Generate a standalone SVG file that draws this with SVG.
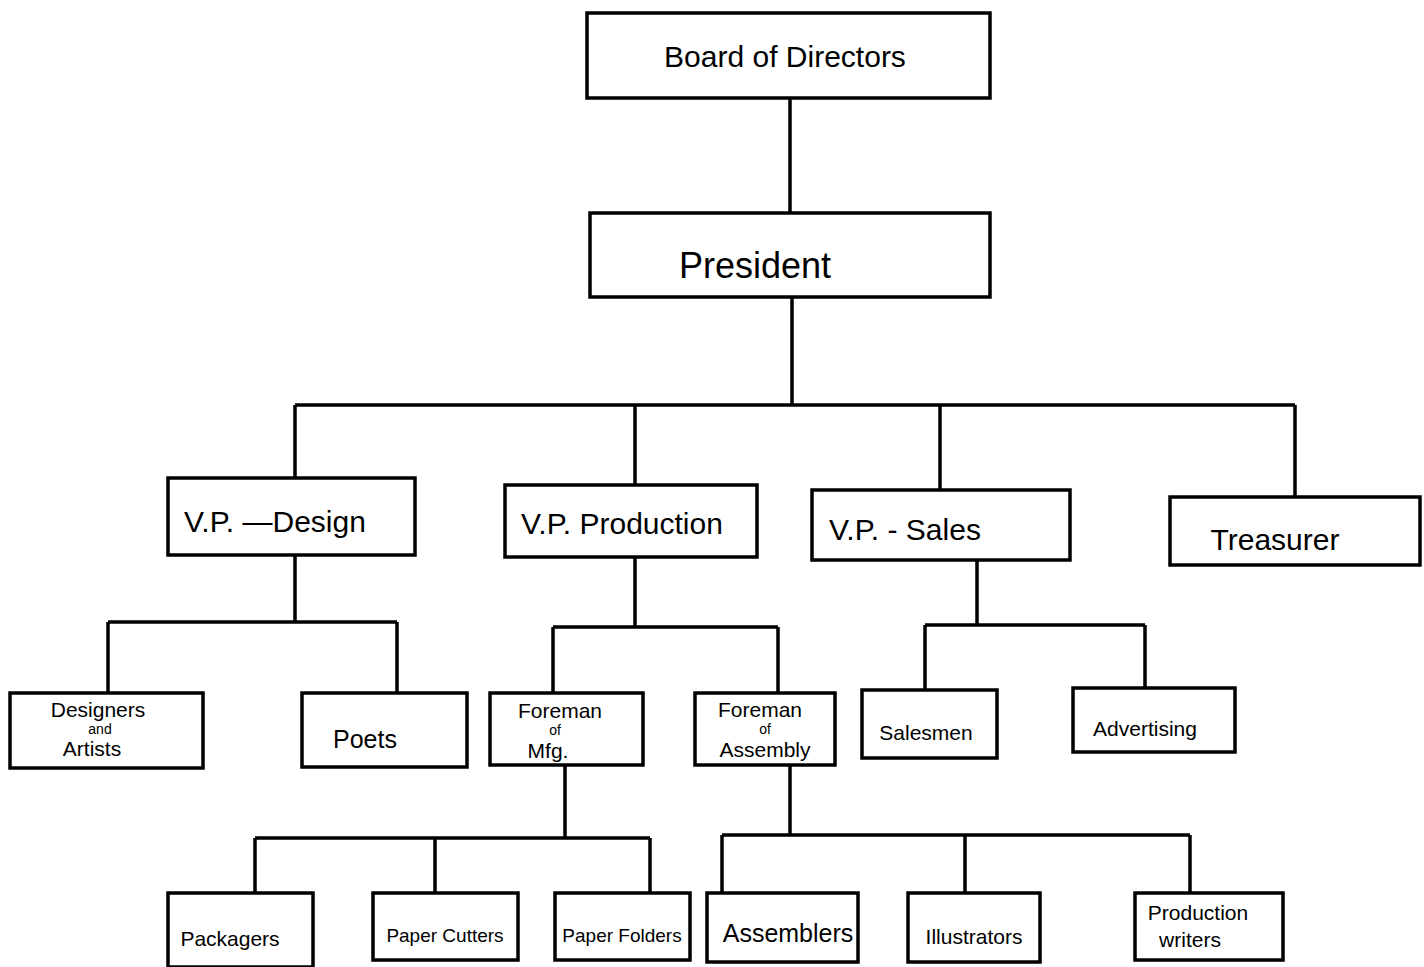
<svg xmlns="http://www.w3.org/2000/svg" width="1424" height="967" viewBox="0 0 1424 967">
<style>
.box{fill:#fff;stroke:#000;stroke-width:3.5}
.c{fill:none;stroke:#000;stroke-width:3.5}
text{font-family:"Liberation Sans",Arial,sans-serif;fill:#000;text-anchor:middle}
.l{font-size:30px}
.m{font-size:25px}
.s{font-size:21px}
.t{font-size:14px}
</style>
<rect width="1424" height="967" fill="#fff"/>
<g id="connectors">
<path class="c" d="M790 98V213"/>
<path class="c" d="M792 297V405M295 405H1295M295 405V478M635 405V485M940 405V490M1295 405V497"/>
<path class="c" d="M295 555V622M108 622H397M108 622V693M397 622V693"/>
<path class="c" d="M635 557V627M553 627H778M553 627V693M778 627V693"/>
<path class="c" d="M977 560V625M925 625H1145M925 625V690M1145 625V688"/>
<path class="c" d="M565 765V838M255 838H650M255 838V893M435 838V893M650 838V893"/>
<path class="c" d="M790 765V835M722 835H1190M722 835V893M965 835V893M1190 835V893"/>
</g>
<g id="board"><rect class="box" x="587" y="13" width="403" height="85"/><text class="l" x="785" y="67">Board of Directors</text></g>
<g id="president"><rect class="box" x="590" y="213" width="400" height="84"/><text x="755" y="278" style="font-size:36px">President</text></g>
<g id="vp-design"><rect class="box" x="168" y="478" width="247" height="77"/><text class="l" x="275" y="532">V.P. —Design</text></g>
<g id="vp-production"><rect class="box" x="505" y="485" width="252" height="72"/><text class="l" x="622" y="534">V.P. Production</text></g>
<g id="vp-sales"><rect class="box" x="812" y="490" width="258" height="70"/><text class="l" x="905" y="540">V.P. - Sales</text></g>
<g id="treasurer"><rect class="box" x="1170" y="497" width="250" height="68"/><text class="l" x="1275" y="550">Treasurer</text></g>
<g id="designers"><rect class="box" x="10" y="693" width="193" height="75"/><text class="s" x="98" y="717">Designers</text><text class="t" x="100" y="734">and</text><text class="s" x="92" y="756">Artists</text></g>
<g id="poets"><rect class="box" x="302" y="693" width="165" height="74"/><text class="m" x="365" y="748">Poets</text></g>
<g id="foreman-mfg"><rect class="box" x="490" y="693" width="153" height="72"/><text class="s" x="560" y="718">Foreman</text><text class="t" x="555" y="735">of</text><text class="s" x="548" y="758">Mfg.</text></g>
<g id="foreman-assembly"><rect class="box" x="695" y="693" width="140" height="72"/><text class="s" x="760" y="717">Foreman</text><text class="t" x="765" y="734">of</text><text class="s" x="765" y="757">Assembly</text></g>
<g id="salesmen"><rect class="box" x="862" y="690" width="135" height="68"/><text class="s" x="926" y="740">Salesmen</text></g>
<g id="advertising"><rect class="box" x="1073" y="688" width="162" height="64"/><text class="s" x="1145" y="736">Advertising</text></g>
<g id="packagers"><rect class="box" x="168" y="893" width="145" height="74"/><text class="s" x="230" y="946">Packagers</text></g>
<g id="paper-cutters"><rect class="box" x="373" y="893" width="145" height="67"/><text x="445" y="942" style="font-size:19px">Paper Cutters</text></g>
<g id="paper-folders"><rect class="box" x="555" y="893" width="135" height="67"/><text x="622" y="942" style="font-size:19px">Paper Folders</text></g>
<g id="assemblers"><rect class="box" x="707" y="893" width="151" height="69"/><text class="m" x="788" y="942">Assemblers</text></g>
<g id="illustrators"><rect class="box" x="908" y="893" width="132" height="69"/><text class="s" x="974" y="944">Illustrators</text></g>
<g id="production-writers"><rect class="box" x="1135" y="893" width="148" height="67"/><text class="s" x="1198" y="920">Production</text><text class="s" x="1190" y="947">writers</text></g>
</svg>
